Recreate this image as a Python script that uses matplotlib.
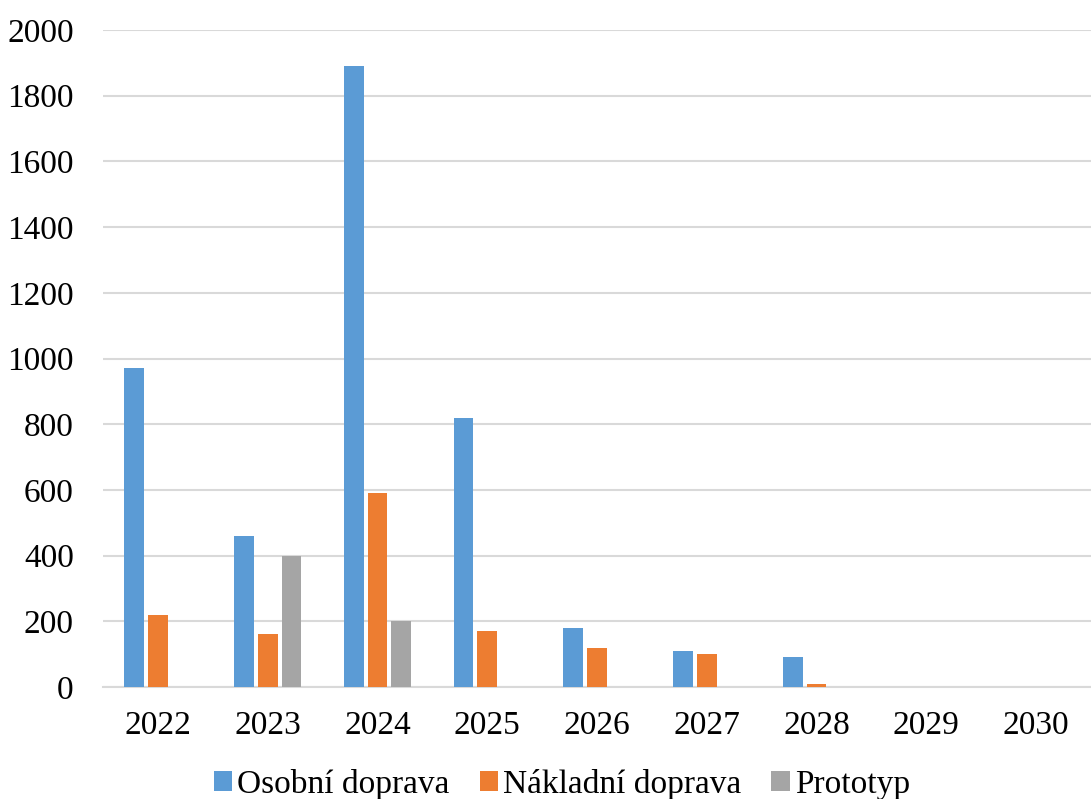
import matplotlib
matplotlib.use("Agg")
import matplotlib.pyplot as plt
import numpy as np

years = ["2022", "2023", "2024", "2025", "2026", "2027", "2028", "2029", "2030"]
osobni = [970, 460, 1890, 820, 180, 110, 90, 0, 0]
nakladni = [220, 160, 590, 170, 120, 100, 10, 0, 0]
prototyp = [0, 400, 200, 0, 0, 0, 0, 0, 0]

series = [
    ("Osobní doprava", osobni, "#5B9BD5"),
    ("Nákladní doprava", nakladni, "#ED7D31"),
    ("Prototyp", prototyp, "#A5A5A5"),
]

plt.rcParams["font.family"] = ["Liberation Serif", "DejaVu Serif"]

fig = plt.figure(figsize=(10.91, 7.99), dpi=100)
ax = fig.add_axes([103 / 1091, 112 / 799, 988 / 1091, 657 / 799])

x = np.arange(len(years))
bar_w = 0.18
step = 0.217
for i, (name, vals, color) in enumerate(series):
    ax.bar(x + (i - 1) * step, vals, width=bar_w, color=color, label=name,
           zorder=3)

ax.set_xlim(-0.5, len(years) - 0.5)
ax.set_ylim(0, 2000)
ax.set_yticks(np.arange(0, 2001, 200))
ax.set_xticks(x)
ax.set_xticklabels(years)
ax.tick_params(axis="both", length=0, labelsize=24, colors="black")
ax.tick_params(axis="y", pad=21)
ax.tick_params(axis="x", pad=17)
ax.grid(axis="y", color="#D9D9D9", linewidth=1.5, zorder=0)
for side in ["top", "right", "left"]:
    ax.spines[side].set_visible(False)
ax.spines["bottom"].set_color("#D9D9D9")
ax.spines["bottom"].set_linewidth(1.5)

fig.legend(loc="center", bbox_to_anchor=(0.515, 15 / 799), ncol=3,
           frameon=False, fontsize=24, handlelength=0.55, handleheight=0.55,
           handletextpad=0.15, columnspacing=0.9)

fig.savefig("out.png", dpi=100, facecolor="white")
